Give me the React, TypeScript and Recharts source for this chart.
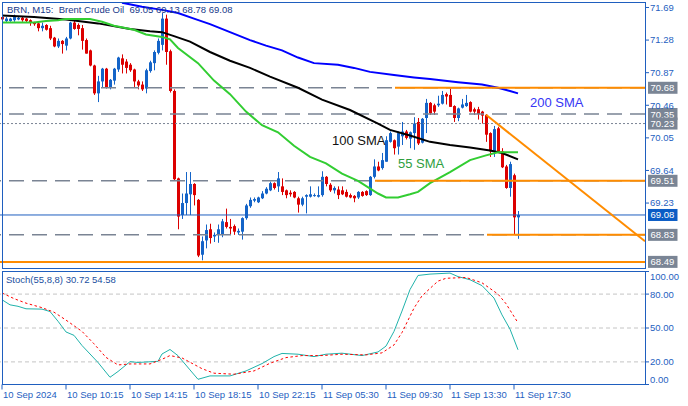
import React from 'react';
import { ComposedChart, Bar, Line, XAxis, YAxis, ReferenceLine } from 'recharts';

const FONT = '"Liberation Sans", Arial, sans-serif';
const AXIS = '#1f5fbf';
const BULL = '#1464c8';
const BEAR = '#dc0000';
const ORANGE = '#ff8c00';
const GRAYLINE = '#7a8494';
const TAG_GRAY = '#7a8595';
const TAG_BLUE = '#0b5cc5';

// ---- time axis labels (bar index -> label) ----
const timeLabelBars = [0, 16, 32, 48, 64, 80, 96, 112, 128];
const timeLabels = ['10 Sep 2024', '10 Sep 10:15', '10 Sep 14:15', '10 Sep 18:15', '10 Sep 22:15', '11 Sep 05:30', '11 Sep 09:30', '11 Sep 13:30', '11 Sep 17:30'];

// ---- M15 candles ----
const opens = [71.57,71.52,71.52,71.53,71.54,71.56,71.55,71.53,71.50,71.49,71.43,71.47,71.43,71.31,71.20,71.27,71.21,71.30,71.50,71.47,71.43,71.28,71.15,70.96,70.61,70.76,70.92,70.68,70.77,70.91,71.05,71.01,70.97,70.91,70.76,70.72,70.67,70.89,70.99,71.12,71.22,71.55,71.14,70.64,69.54,69.08,69.23,69.34,69.47,69.27,68.58,68.76,68.90,68.81,68.83,68.83,68.99,68.93,68.94,68.86,68.87,69.04,69.19,69.26,69.24,69.29,69.35,69.39,69.48,69.44,69.44,69.39,69.36,69.37,69.29,69.21,69.31,69.31,69.32,69.31,69.33,69.56,69.46,69.39,69.40,69.39,69.37,69.33,69.32,69.30,69.37,69.38,69.33,69.56,69.69,69.67,69.75,70.00,70.02,69.94,70.07,70.13,70.04,70.11,70.25,69.99,70.30,70.49,70.46,70.46,70.48,70.60,70.59,70.45,70.30,70.43,70.45,70.50,70.41,70.41,70.38,70.34,70.11,69.88,70.17,69.88,69.69,69.42,69.58,69.05];
const highs = [71.59,71.57,71.56,71.60,71.57,71.58,71.56,71.54,71.51,71.50,71.50,71.48,71.46,71.32,71.30,71.28,71.32,71.51,71.52,71.49,71.47,71.30,71.16,70.97,70.83,70.93,70.93,70.79,70.93,71.07,71.10,71.04,70.99,70.92,70.78,70.76,70.92,71.02,71.15,71.30,71.62,71.60,71.16,70.66,69.55,69.35,69.62,69.62,69.48,69.28,68.81,68.96,68.97,68.86,68.96,69.03,69.16,69.03,68.96,68.91,69.05,69.22,69.30,69.30,69.31,69.38,69.43,69.50,69.49,69.62,69.54,69.40,69.39,69.38,69.31,69.31,69.34,69.44,69.35,69.44,69.63,69.57,69.48,69.44,69.44,69.44,69.40,69.35,69.33,69.38,69.38,69.39,69.57,69.78,69.75,69.86,70.07,70.13,70.03,70.13,70.25,70.15,70.13,70.31,70.30,70.30,70.54,70.50,70.48,70.58,70.64,70.62,70.67,70.46,70.43,70.54,70.59,70.51,70.43,70.44,70.39,70.35,70.12,70.20,70.19,69.92,69.71,69.75,69.60,69.13];
const lows = [71.52,71.50,71.51,71.51,71.53,71.51,71.50,71.46,71.46,71.39,71.39,71.40,71.28,71.19,71.18,71.11,71.15,71.29,71.41,71.34,71.16,71.11,70.95,70.59,70.50,70.68,70.67,70.66,70.72,70.88,70.86,70.86,70.88,70.69,70.66,70.64,70.61,70.87,70.90,71.10,71.15,70.97,70.62,69.51,68.90,69.03,69.08,69.08,69.20,68.55,68.51,68.66,68.72,68.74,68.73,68.80,68.91,68.83,68.83,68.83,68.77,69.02,69.17,69.24,69.23,69.28,69.34,69.38,69.40,69.37,69.33,69.29,69.31,69.29,69.11,69.19,69.10,69.30,69.31,69.30,69.31,69.44,69.37,69.35,69.28,69.33,69.30,69.29,69.24,69.28,69.31,69.32,69.32,69.54,69.63,69.65,69.75,69.99,69.84,69.84,69.96,70.03,69.92,69.90,69.96,69.98,70.11,70.34,70.34,70.44,70.47,70.47,70.44,70.25,70.26,70.42,70.44,70.37,70.34,70.28,70.23,70.00,69.81,69.81,69.86,69.67,69.41,69.31,68.84,68.78];
const closes = [71.54,71.55,71.55,71.57,71.56,71.53,71.52,71.50,71.48,71.43,71.46,71.41,71.30,71.20,71.27,71.23,71.30,71.50,71.42,71.42,71.27,71.11,70.96,70.61,70.76,70.92,70.68,70.78,70.92,71.06,70.97,70.93,70.90,70.76,70.71,70.66,70.90,71.00,71.13,71.27,71.55,71.13,70.64,69.53,69.06,69.23,69.35,69.47,69.33,68.57,68.75,68.89,68.79,68.83,68.90,69.00,68.93,68.91,68.87,68.88,69.04,69.20,69.27,69.28,69.30,69.35,69.41,69.48,69.42,69.54,69.37,69.33,69.34,69.30,69.21,69.29,69.33,69.34,69.33,69.33,69.56,69.47,69.39,69.42,69.33,69.34,69.31,69.30,69.29,69.37,69.32,69.33,69.56,69.69,69.64,69.77,70.02,70.11,69.92,70.11,70.13,70.05,70.12,70.23,69.98,70.29,70.49,70.36,70.38,70.48,70.59,70.57,70.44,70.30,70.42,70.47,70.49,70.38,70.38,70.35,70.33,70.09,69.88,70.16,69.88,69.68,69.42,69.72,69.05,69.08];

// ---- moving averages: [bar index, value] ----
const sma55: [number, number][] = [[0,71.50],[8,71.50],[11,71.52],[14,71.53],[16,71.545],[22,71.545],[25,71.51],[28,71.46],[33,71.41],[36,71.35],[40,71.32],[42,71.29],[44,71.18],[49,70.99],[53,70.77],[57,70.60],[61,70.38],[65,70.21],[69,70.12],[73,69.95],[77,69.81],[81,69.73],[85,69.60],[89,69.51],[94,69.35],[96,69.30],[99,69.30],[102,69.34],[104,69.37],[107,69.48],[112,69.62],[117,69.77],[121,69.83],[124,69.87],[129,69.87]];
const sma100: [number, number][] = [[0,71.59],[8,71.57],[16,71.54],[24,71.49],[32,71.42],[37,71.39],[40,71.38],[43,71.33],[47,71.26],[52,71.13],[57,71.02],[62,70.93],[67,70.82],[74,70.68],[80,70.53],[87,70.40],[94,70.23],[97,70.15],[102,70.08],[107,70.00],[112,69.96],[117,69.93],[122,69.89],[125,69.86],[129,69.78]];
const sma200: [number, number][] = [[30,71.75],[35,71.70],[40,71.66],[44,71.62],[48,71.55],[52,71.48],[57,71.38],[62,71.28],[66,71.21],[70,71.15],[74,71.06],[78,70.99],[84,70.97],[88,70.93],[92,70.88],[98,70.84],[103,70.81],[107,70.79],[114,70.75],[120,70.72],[124,70.68],[127,70.64],[129,70.61]];

// ---- stochastic (55,8,8) ----
const stochK: [number, number][] = [[0,75],[2,70.5],[4,69.2],[6,67],[10,66.7],[12,64.6],[14,56],[16,46.5],[18,43.5],[20,34.5],[24,19.5],[27,6.4],[29,11.5],[32,20.2],[34,19.5],[39,20.5],[40,27],[42,31],[44,25.5],[47,12.9],[49,4.6],[52,7.6],[57,7.6],[61,12],[65,18.5],[68,24.7],[70,27.5],[74,26.8],[78,24.7],[81,26.8],[85,27.7],[90,25.6],[94,28.8],[96,34],[98,47],[100,65],[102,84],[104,96.5],[107,97.7],[112,98.6],[114,95.5],[117,92.7],[120,87.5],[123,76.5],[125,61.6],[127,49],[129,30.72]];
const stochD: [number, number][] = [[0,81],[3,76],[6,72],[10,68],[13,64],[16,57],[20,47],[23,36],[26,24],[29,17.3],[32,18.2],[37,18.2],[40,22.3],[42,25.6],[45,23.5],[50,14],[53,10],[58,9.1],[63,12],[67,18.8],[71,23.8],[75,25.6],[80,25.6],[85,26.8],[91,26.2],[95,28],[98,35],[100,46],[103,67.6],[105,78.5],[109,91.5],[111,94],[116,94.7],[120,90],[124,80],[126,71.5],[129,54.58]];

// ---- axes / levels ----
const priceTicks = [71.69, 71.28, 70.87, 70.46, 70.05, 69.64, 69.23];
const stochTicks = [0, 20, 50, 80, 100];
const stochLevels = [20, 50, 80];
const dashedLevels = [70.68, 70.35, 69.51, 68.83];
const dottedLevels = [70.23];
const currentPrice = 69.08;
const orangeLines = [
  { x1: 98.25, y1: 70.68, x2: 160.75, y2: 70.68 },
  { x1: 93.25, y1: 69.51, x2: 160.75, y2: 69.51 },
  { x1: 121.25, y1: 68.83, x2: 160.75, y2: 68.83 },
  { x1: -0.5, y1: 68.49, x2: 160.75, y2: 68.49 },
  { x1: 121, y1: 70.34, x2: 160.75, y2: 68.75 },
];
const priceTags = [
  { v: 70.68, bg: TAG_GRAY },
  { v: 70.35, bg: TAG_GRAY },
  { v: 70.23, bg: TAG_GRAY },
  { v: 69.51, bg: TAG_GRAY },
  { v: 69.08, bg: TAG_BLUE },
  { v: 68.83, bg: TAG_GRAY },
  { v: 68.49, bg: TAG_GRAY },
];
const X_DOMAIN: [number, number] = [-0.5, 160.75];
const Y_DOMAIN: [number, number] = [68.413, 71.759];

const rows: any[] = opens.map((o, i) => ({ i, o, h: highs[i], l: lows[i], c: closes[i] }));
sma55.forEach(([i, v]) => { rows[i].s55 = v; });
sma100.forEach(([i, v]) => { rows[i].s100 = v; });
sma200.forEach(([i, v]) => { rows[i].s200 = v; });

const stochRows: any[] = opens.map((_, i) => ({ i }));
stochK.forEach(([i, v]) => { stochRows[i].k = v; });
stochD.forEach(([i, v]) => { stochRows[i].d = v; });

const Candle = (props: any) => {
  const { x, y, width, height, payload } = props;
  if (!payload || payload.o == null || height == null) return null;
  const { o, h, l, c } = payload;
  const cx = Math.round(x + width / 2);
  const k = h - l > 0 ? height / (h - l) : 0;
  const yO = y + (h - o) * k;
  const yC = y + (h - c) * k;
  const col = c >= o ? BULL : BEAR;
  const top = Math.min(yO, yC);
  const bh = Math.max(Math.abs(yO - yC), 1);
  return (
    <g>
      <line x1={cx + 0.5} x2={cx + 0.5} y1={y} y2={y + height} stroke={col} strokeWidth={1} />
      <rect x={cx - 1} y={top} width={3} height={bh} fill={col} />
    </g>
  );
};

const PriceTag = (props: any) => {
  const { viewBox, text, bg } = props;
  if (!viewBox) return null;
  const x0 = viewBox.x + viewBox.width + 3;
  const y0 = viewBox.y;
  return (
    <g>
      <rect x={x0} y={y0 - 6} width={29.5} height={12} fill={bg} />
      <text x={x0 + 2.5} y={y0 + 3.5} fill="#ffffff" fontSize={9.5} fontFamily={FONT}>{text}</text>
    </g>
  );
};

const PriceTick = (p: any) => (
  <text x={p.x} y={p.y} dy={3.4} fill={AXIS} fontSize={9.5} fontFamily={FONT} textAnchor="start">
    {Number(p.payload.value).toFixed(2)}
  </text>
);

const StochTick = (p: any) => {
  const v = Number(p.payload.value);
  const dy = v === 100 ? 8 : v === 0 ? -1.8 : 3.4;
  return (
    <text x={p.x} y={p.y} dy={dy} fill={AXIS} fontSize={9.5} fontFamily={FONT} textAnchor="start">
      {v.toFixed(2)}
    </text>
  );
};

const TimeTick = (p: any) => {
  const idx = timeLabelBars.indexOf(Number(p.payload.value));
  return (
    <text x={p.x + 1} y={p.y + 8} fill={AXIS} fontSize={9.5} fontFamily={FONT} textAnchor="start">
      {idx >= 0 ? timeLabels[idx] : ''}
    </text>
  );
};

export default function App() {
  return (
    <div style={{ position: 'absolute', left: 0, top: 0, width: 688, height: 406, background: '#ffffff', overflow: 'hidden' }}>
      <div style={{ position: 'absolute', left: 0, top: 0 }}>
        <ComposedChart width={688} height={268} data={rows} margin={{ top: 2, right: 0, bottom: 0, left: 0 }}>
          <XAxis dataKey="i" type="number" domain={X_DOMAIN} allowDataOverflow hide />
          <YAxis
            orientation="right"
            width={43}
            domain={Y_DOMAIN}
            allowDataOverflow
            ticks={priceTicks}
            interval={0}
            axisLine={false}
            tickLine={{ stroke: AXIS }}
            tickSize={4}
            tickMargin={1}
            tick={<PriceTick />}
          />
          {dashedLevels.map((v) => (
            <ReferenceLine key={'g' + v} y={v} stroke={GRAYLINE} strokeWidth={1.5} strokeDasharray="15 8" />
          ))}
          {dottedLevels.map((v) => (
            <ReferenceLine key={'dt' + v} y={v} stroke={GRAYLINE} strokeWidth={1} strokeDasharray="2 2" />
          ))}
          <ReferenceLine y={currentPrice} stroke={AXIS} strokeWidth={1} />
          <Bar dataKey={(d: any) => [d.l, d.h]} shape={<Candle />} isAnimationActive={false} />
          <Line dataKey="s200" stroke="#0000ff" strokeWidth={2} dot={false} connectNulls isAnimationActive={false} />
          <Line dataKey="s100" stroke="#000000" strokeWidth={2} dot={false} connectNulls isAnimationActive={false} />
          <Line dataKey="s55" stroke="#32cd32" strokeWidth={2} dot={false} connectNulls isAnimationActive={false} />
          {orangeLines.map((s, n) => (
            <ReferenceLine
              key={'o' + n}
              segment={[{ x: s.x1, y: s.y1 }, { x: s.x2, y: s.y2 }]}
              stroke={ORANGE}
              strokeWidth={2}
              ifOverflow="visible"
            />
          ))}
          {priceTags.map((t) => (
            <ReferenceLine key={'t' + t.v} y={t.v} stroke="none" label={<PriceTag text={t.v.toFixed(2)} bg={t.bg} />} />
          ))}
        </ComposedChart>
      </div>
      <div style={{ position: 'absolute', left: 0, top: 268 }}>
        <ComposedChart width={688} height={138} data={stochRows} margin={{ top: 3.5, right: 0, bottom: 0.5, left: 0 }}>
          <XAxis
            dataKey="i"
            type="number"
            domain={X_DOMAIN}
            allowDataOverflow
            ticks={timeLabelBars}
            interval={0}
            height={21}
            axisLine={false}
            tickLine={{ stroke: AXIS }}
            tickSize={5}
            tickMargin={0}
            tick={<TimeTick />}
          />
          <YAxis
            orientation="right"
            width={43}
            domain={[0, 100]}
            allowDataOverflow
            ticks={stochTicks}
            interval={0}
            axisLine={false}
            tickLine={{ stroke: AXIS }}
            tickSize={4}
            tickMargin={1}
            tick={<StochTick />}
          />
          {stochLevels.map((v) => (
            <ReferenceLine key={'s' + v} y={v} stroke="#c4c4c4" strokeWidth={1} strokeDasharray="4 3" />
          ))}
          <Line dataKey="k" stroke="#20b2aa" strokeWidth={1} dot={false} connectNulls isAnimationActive={false} />
          <Line dataKey="d" stroke="#ff0000" strokeWidth={1} strokeDasharray="2.5 2.5" dot={false} connectNulls isAnimationActive={false} />
        </ComposedChart>
      </div>
      {/* panel frames */}
      <div style={{ position: 'absolute', left: 2, top: 2, width: 644, height: 267, border: `1px solid ${AXIS}`, boxSizing: 'border-box', pointerEvents: 'none' }} />
      <div style={{ position: 'absolute', left: 2, top: 271, width: 644, height: 114, border: `1px solid ${AXIS}`, boxSizing: 'border-box', pointerEvents: 'none' }} />
      <svg width={688} height={406} style={{ position: 'absolute', left: 0, top: 0, pointerEvents: 'none' }}>
        <text x={7} y={12.5} fill="#17398a" fontSize={9.5} fontFamily={FONT} style={{ whiteSpace: 'pre' }}>
          {'BRN, M15:  Brent Crude Oil  69.05 69.13 68.78 69.08'}
        </text>
        <text x={530} y={106.5} fill="#3535f5" fontSize={13} fontFamily={FONT}>200 SMA</text>
        <text x={332} y={145} fill="#111111" fontSize={13} fontFamily={FONT}>100 SMA</text>
        <text x={398} y={168} fill="#2e9e3e" fontSize={13} fontFamily={FONT}>55 SMA</text>
        <text x={6} y={283} fill="#1a4fa0" fontSize={9.5} fontFamily={FONT}>Stoch(55,8,8) 30.72 54.58</text>
      </svg>
    </div>
  );
}
